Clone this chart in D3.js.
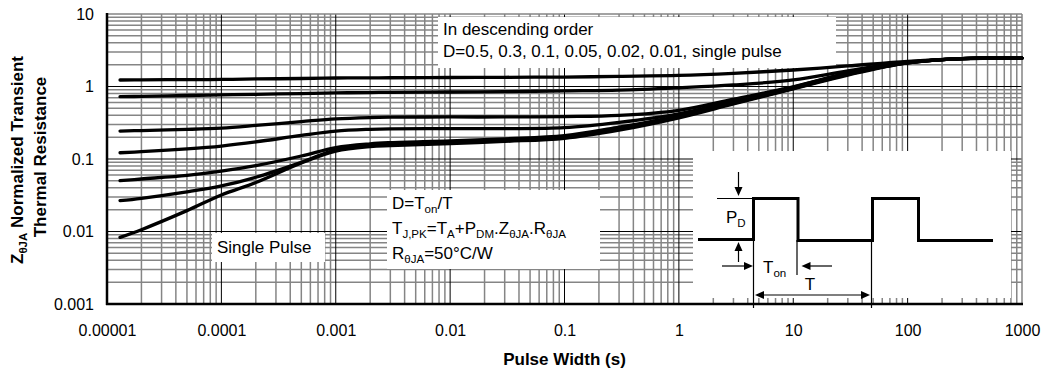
<!DOCTYPE html>
<html><head><meta charset="utf-8">
<script src="https://cdn.jsdelivr.net/npm/d3@7"></script>
<style>
body{margin:0;background:#fff}
svg{display:block}
text{font-family:Arial,"Liberation Sans",sans-serif;fill:#000}
</style>
</head><body>
<svg id="c" width="1042" height="373"></svg>
<script>
// ---- data ----
const pulseWidths = [1.3e-5, 2e-5, 5e-5, 1e-4, 2e-4, 5e-4, 1e-3, 2e-3, 3e-3, 1e-2, 3e-2, 0.1, 0.3, 1, 3, 10, 30, 100, 300, 1000];
const seriesNames = ["D=0.5", "D=0.3", "D=0.1", "D=0.05", "D=0.02", "D=0.01", "single pulse"];
const zD050 = [1.23, 1.235, 1.245, 1.25, 1.27, 1.29, 1.31, 1.315, 1.32, 1.33, 1.34, 1.35, 1.38, 1.42, 1.52, 1.69, 1.92, 2.22, 2.43, 2.47];
const zD030 = [0.723, 0.73, 0.751, 0.766, 0.78, 0.80, 0.817, 0.825, 0.83, 0.84, 0.85, 0.87, 0.89, 0.96, 1.05, 1.23, 1.64, 2.18, 2.43, 2.47];
const zD010 = [0.243, 0.247, 0.256, 0.267, 0.29, 0.328, 0.358, 0.373, 0.377, 0.38, 0.38, 0.385, 0.40, 0.47, 0.67, 0.99, 1.54, 2.15, 2.43, 2.47];
const zD005 = [0.122, 0.126, 0.138, 0.151, 0.172, 0.212, 0.243, 0.257, 0.261, 0.262, 0.262, 0.27, 0.32, 0.42, 0.63, 0.98, 1.52, 2.13, 2.43, 2.47];
const zD002 = [0.0502, 0.053, 0.0595, 0.068, 0.081, 0.11, 0.144, 0.162, 0.168, 0.178, 0.19, 0.21, 0.275, 0.39, 0.60, 0.96, 1.49, 2.12, 2.43, 2.47];
const zD001 = [0.0266, 0.0287, 0.0352, 0.0425, 0.056, 0.09, 0.134, 0.155, 0.160, 0.170, 0.18, 0.20, 0.262, 0.38, 0.59, 0.94, 1.47, 2.12, 2.43, 2.47];
const zSingle = [0.0083, 0.0106, 0.0194, 0.0319, 0.0474, 0.088, 0.128, 0.148, 0.153, 0.163, 0.175, 0.193, 0.25, 0.37, 0.575, 0.93, 1.44, 2.12, 2.43, 2.47];
const xTickValues = [1e-5, 1e-4, 1e-3, 1e-2, 1e-1, 1, 10, 100, 1000];
const xTickLabels = ["0.00001", "0.0001", "0.001", "0.01", "0.1", "1", "10", "100", "1000"];
const yTickValues = [0.001, 0.01, 0.1, 1, 10];
const yTickLabels = ["0.001", "0.01", "0.1", "1", "10"];

const svg = d3.select("#c");
const L = 107, R = 1022, T = 14, B = 304;
const x = d3.scaleLog().domain([1e-5, 1000]).range([L, R]);
const y = d3.scaleLog().domain([0.001, 10]).range([B, T]);

// ---- grid ----
const grid = svg.append("g");
const minorX = [], minorY = [];
for (let e = -5; e <= 2; e++) for (let k = 2; k <= 9; k++) minorX.push(k * Math.pow(10, e));
for (let e = -3; e <= 0; e++) for (let k = 2; k <= 9; k++) minorY.push(k * Math.pow(10, e));
grid.selectAll(".mx").data(minorX).join("line")
  .attr("x1", d => x(d)).attr("x2", d => x(d)).attr("y1", T).attr("y2", B)
  .attr("stroke", "#858585").attr("stroke-width", 1.5);
grid.selectAll(".my").data(minorY).join("line")
  .attr("x1", L).attr("x2", R).attr("y1", d => y(d)).attr("y2", d => y(d))
  .attr("stroke", "#858585").attr("stroke-width", 1.5);
grid.selectAll(".Mx").data(xTickValues.slice(1, -1)).join("line")
  .attr("x1", d => x(d)).attr("x2", d => x(d)).attr("y1", T).attr("y2", B)
  .attr("stroke", "#000").attr("stroke-width", 1);
grid.selectAll(".My").data(yTickValues.slice(1, -1)).join("line")
  .attr("x1", L).attr("x2", R).attr("y1", d => y(d)).attr("y2", d => y(d))
  .attr("stroke", "#000").attr("stroke-width", 1);
grid.append("line").attr("x1", L).attr("x2", R).attr("y1", T).attr("y2", T).attr("stroke", "#858585").attr("stroke-width", 1.5);
grid.append("line").attr("x1", R).attr("x2", R).attr("y1", T).attr("y2", B).attr("stroke", "#858585").attr("stroke-width", 1.5);

// ---- white annotation boxes ----
const boxes = svg.append("g");
boxes.append("rect").attr("x", 438).attr("y", 17).attr("width", 398).attr("height", 51).attr("fill", "#fff");
boxes.append("rect").attr("x", 387).attr("y", 190).attr("width", 213).attr("height", 79).attr("fill", "#fff");
boxes.append("rect").attr("x", 212).attr("y", 233).attr("width", 113).attr("height", 29).attr("fill", "#fff");
boxes.append("rect").attr("x", 693).attr("y", 151).attr("width", 318).attr("height", 147).attr("fill", "#fff");

// ---- curves ----
const allSeries = [zD050, zD030, zD010, zD005, zD002, zD001, zSingle];
const line = d3.line().x((d, i) => x(pulseWidths[i])).y(d => y(d)).curve(d3.curveCatmullRom.alpha(0.5));
svg.append("g").selectAll("path").data(allSeries).join("path")
  .attr("d", d => line(d)).attr("fill", "none").attr("stroke", "#000")
  .attr("stroke-width", 3.3).attr("stroke-linecap", "round").attr("stroke-linejoin", "round");

// ---- axes ----
const xAxis = svg.append("g").attr("transform", `translate(0,${B})`)
  .call(d3.axisBottom(x).tickValues(xTickValues).tickFormat((d, i) => xTickLabels[i]).tickSize(0).tickPadding(21));
xAxis.select(".domain").remove();
xAxis.selectAll("text").attr("font-size", 16).style("font-family", "Arial, 'Liberation Sans', sans-serif").attr("fill", "#000");
const yAxis = svg.append("g").attr("transform", `translate(${L},0)`)
  .call(d3.axisLeft(y).tickValues(yTickValues).tickFormat((d, i) => yTickLabels[i]).tickSize(0).tickPadding(13));
yAxis.select(".domain").remove();
yAxis.selectAll("text").attr("font-size", 16).style("font-family", "Arial, 'Liberation Sans', sans-serif").attr("fill", "#000");
svg.append("line").attr("x1", L).attr("x2", L).attr("y1", T - 1).attr("y2", B + 1).attr("stroke", "#000").attr("stroke-width", 2.5);
svg.append("line").attr("x1", L - 1).attr("x2", R + 1).attr("y1", B).attr("y2", B).attr("stroke", "#000").attr("stroke-width", 2.5);

// ---- helper for text with subscripts ----
function richText(g, px, py, parts, size) {
  const t = g.append("text").attr("x", px).attr("y", py).attr("font-size", size);
  let shifted = false;
  parts.forEach(p => {
    const sub = p[1];
    const ts = t.append("tspan").text(p[0]);
    if (sub && !shifted) { ts.attr("font-size", size * 0.68).attr("dy", 4); shifted = true; }
    else if (!sub && shifted) { ts.attr("dy", -4); shifted = false; }
    else if (sub) ts.attr("font-size", size * 0.68);
  });
  return t;
}

// ---- annotation text ----
const ann = svg.append("g");
ann.append("text").attr("x", 443).attr("y", 35).attr("font-size", 17).text("In descending order");
ann.append("text").attr("x", 443).attr("y", 57).attr("font-size", 17).text("D=0.5, 0.3, 0.1, 0.05, 0.02, 0.01, single pulse");
richText(ann, 392, 209, [["D=T"], ["on", 1], ["/T"]], 17);
richText(ann, 392, 234, [["T"], ["J,PK", 1], ["=T"], ["A", 1], ["+P"], ["DM", 1], [".Z"], ["θJA", 1], [".R"], ["θJA", 1]], 17);
richText(ann, 392, 259, [["R"], ["θJA", 1], ["=50°C/W"]], 17);
ann.append("text").attr("x", 217).attr("y", 253).attr("font-size", 17).text("Single Pulse");

// ---- inset waveform ----
const ins = svg.append("g");
const wave = [[698, 239.5], [753.5, 239.5], [753.5, 198.5], [798, 198.5], [798, 240.5], [872.5, 240.5], [872.5, 198.5], [918.5, 198.5], [918.5, 240.5], [993, 240.5]];
ins.append("path").attr("d", d3.line()(wave)).attr("fill", "none").attr("stroke", "#000").attr("stroke-width", 3);
const thin = (x1, y1, x2, y2) => ins.append("line").attr("x1", x1).attr("y1", y1).attr("x2", x2).attr("y2", y2).attr("stroke", "#000").attr("stroke-width", 1.2);
const arrowHead = (tx, ty, dir) => {
  const l = 9, w = 4;
  let pts;
  if (dir === "down") pts = [[tx, ty], [tx - w, ty - l], [tx + w, ty - l]];
  if (dir === "up") pts = [[tx, ty], [tx - w, ty + l], [tx + w, ty + l]];
  if (dir === "right") pts = [[tx, ty], [tx - l, ty - w], [tx - l, ty + w]];
  if (dir === "left") pts = [[tx, ty], [tx + l, ty - w], [tx + l, ty + w]];
  ins.append("path").attr("d", d3.line()(pts) + "Z").attr("fill", "#000");
};
thin(717, 198.5, 753, 198.5);
thin(738.5, 172, 738.5, 188); arrowHead(738.5, 196, "down");
thin(738.5, 262, 738.5, 250); arrowHead(738.5, 242, "up");
thin(722, 266, 745, 266); arrowHead(753, 266, "right");
thin(753.5, 240, 753.5, 308);
thin(797, 240, 797, 275);
thin(832, 266, 810, 266); arrowHead(801.5, 266, "left");
thin(763, 295, 862, 295); arrowHead(755, 295, "left"); arrowHead(870, 295, "right");
thin(871.5, 240, 871.5, 308);
richText(ins, 726, 223, [["P"], ["D", 1]], 17);
richText(ins, 763, 273, [["T"], ["on", 1]], 17);
ins.append("text").attr("x", 810).attr("y", 290).attr("font-size", 17).attr("text-anchor", "middle").text("T");

// ---- axis titles ----
svg.append("text").attr("x", (L + R) / 2).attr("y", 365).attr("text-anchor", "middle")
  .attr("font-size", 17).attr("font-weight", "bold").text("Pulse Width (s)");
const yt1 = svg.append("text").attr("transform", "translate(23,160) rotate(-90)").attr("text-anchor", "middle")
  .attr("font-size", 17).attr("font-weight", "bold");
yt1.append("tspan").text("Z");
yt1.append("tspan").attr("font-size", 11.5).attr("dy", 4).text("θJA");
yt1.append("tspan").attr("dy", -4).text(" Normalized Transient");
svg.append("text").attr("transform", "translate(46,157) rotate(-90)").attr("text-anchor", "middle")
  .attr("font-size", 17).attr("font-weight", "bold").text("Thermal Resistance");
</script>
</body></html>
